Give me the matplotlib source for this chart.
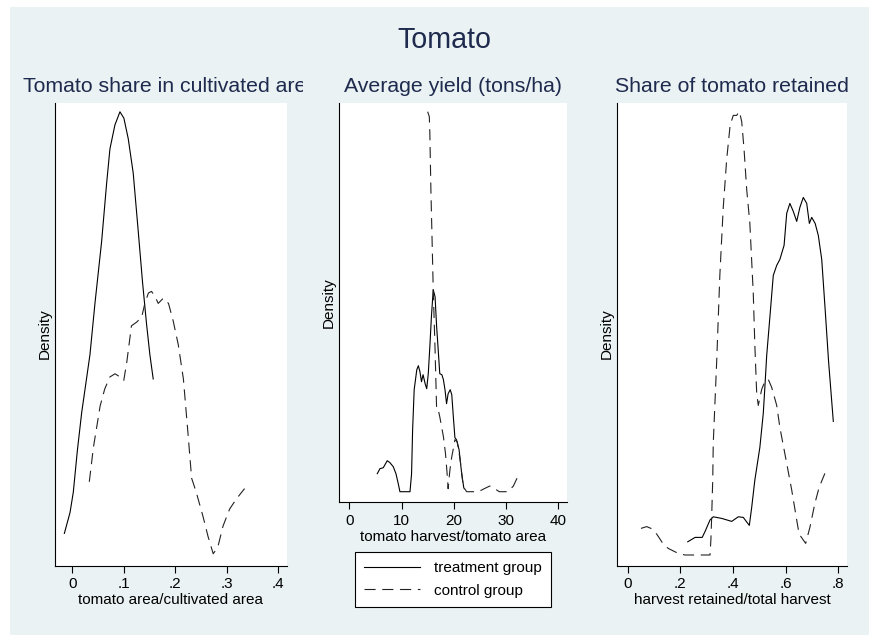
import matplotlib
matplotlib.use("Agg")
import matplotlib.pyplot as plt
from matplotlib.patches import Rectangle
from matplotlib.lines import Line2D
from matplotlib.transforms import Bbox, TransformedBbox

plt.rcParams["font.family"] = ["Liberation Sans", "DejaVu Sans"]

# ==============================
# DATA
# ==============================
# panel 1: tomato area / cultivated area
share_treat_x = [-0.0155, -0.0045, 0.0019, 0.0097, 0.0181, 0.0343, 0.0440, 0.0570, 0.0667, 0.0731,
                 0.0828, 0.0926, 0.1003, 0.1087, 0.1184, 0.1282, 0.1366, 0.1443, 0.1508, 0.1573]
share_treat_y = [0.75, 1.27, 1.78, 2.81, 3.76, 5.22, 6.50, 8.05, 9.50, 10.36,
                 10.96, 11.29, 11.13, 10.62, 9.76, 8.30, 7.02, 5.99, 5.22, 4.61]
share_ctrl_x = [0.033, 0.041, 0.054, 0.063, 0.073, 0.083, 0.093, 0.100, 0.106, 0.115, 0.125,
                0.135, 0.141, 0.148, 0.154, 0.161, 0.167, 0.177, 0.187, 0.196, 0.206, 0.216,
                0.225, 0.232, 0.241, 0.254, 0.264, 0.274, 0.283, 0.293, 0.306, 0.319, 0.335]
share_ctrl_y = [2.04, 2.90, 3.93, 4.36, 4.66, 4.74, 4.66, 4.57, 5.04, 5.94, 6.03,
                6.16, 6.50, 6.76, 6.80, 6.67, 6.50, 6.63, 6.50, 6.07, 5.47, 4.61,
                3.24, 2.13, 1.78, 1.18, 0.67, 0.24, 0.41, 0.93, 1.36, 1.61, 1.87]

# panel 2: tomato harvest / tomato area
yield_treat_x = [5.33, 5.84, 6.48, 7.24, 7.76, 8.39, 8.91, 9.35, 9.67, 11.6, 11.9, 12.1, 12.4,
                 12.9, 13.2, 13.5, 13.8, 14.1, 14.5, 14.8, 15.1, 15.4, 15.7, 16.05, 16.4, 16.7,
                 17.0, 17.3, 17.7, 18.0, 18.3, 18.6, 18.9, 19.3, 19.6, 19.9, 20.2, 20.5, 21.0,
                 21.5, 21.9, 22.0]
yield_treat_y = [0.018, 0.023, 0.024, 0.031, 0.029, 0.025, 0.018, 0.008, 0.0, 0.0, 0.018, 0.062, 0.102,
                 0.122, 0.126, 0.120, 0.110, 0.117, 0.108, 0.103, 0.118, 0.145, 0.175, 0.202, 0.195, 0.165,
                 0.142, 0.118, 0.117, 0.112, 0.102, 0.088, 0.098, 0.102, 0.097, 0.075, 0.054, 0.052, 0.042,
                 0.018, 0.004, 0.003]
yield_ctrl_x = [14.98, 15.3, 15.4, 15.6, 15.8, 16.05, 16.4, 16.7, 17.0, 17.3, 18.0, 18.4, 18.8, 18.9,
                19.25, 19.6, 19.9, 20.2, 20.65, 21.2, 21.8, 22.45, 24.7, 25.96, 26.9, 27.7, 28.7,
                30.4, 31.4, 32.3]
yield_ctrl_y = [0.380, 0.375, 0.358, 0.302, 0.258, 0.202, 0.142, 0.082, 0.082, 0.075, 0.055, 0.038,
                0.012, 0.003, 0.022, 0.035, 0.043, 0.052, 0.050, 0.032, 0.005, 0.0, 0.0, 0.0034,
                0.0057, 0.0034, 0.0, 0.0, 0.0057, 0.0157]

# panel 3: harvest retained / total harvest
kept_treat_x = [0.228, 0.256, 0.283, 0.294, 0.3126, 0.325, 0.357, 0.395, 0.420, 0.439, 0.462, 0.471,
                0.483, 0.502, 0.515, 0.521, 0.528, 0.540, 0.553, 0.566, 0.578, 0.594, 0.604, 0.616,
                0.629, 0.642, 0.654, 0.667, 0.680, 0.690, 0.699, 0.712, 0.724, 0.737, 0.750, 0.763,
                0.781]
kept_treat_y = [0.108, 0.13, 0.13, 0.16, 0.217, 0.233, 0.225, 0.21, 0.233, 0.23, 0.19, 0.28,
                0.417, 0.58, 0.75, 0.88, 1.04, 1.23, 1.44, 1.49, 1.52, 1.59, 1.75, 1.80,
                1.76, 1.71, 1.78, 1.83, 1.80, 1.70, 1.73, 1.70, 1.64, 1.52, 1.27, 1.01,
                0.71]
kept_ctrl_x = [0.0505, 0.072, 0.0885, 0.110, 0.135, 0.154, 0.192, 0.218, 0.3126, 0.316, 0.319, 0.323,
               0.325, 0.338, 0.350, 0.363, 0.376, 0.389, 0.401, 0.414, 0.424, 0.433, 0.442, 0.452,
               0.464, 0.477, 0.483, 0.490, 0.496, 0.509, 0.521, 0.534, 0.547, 0.566, 0.578, 0.604,
               0.623, 0.642, 0.651, 0.676, 0.692, 0.711, 0.727, 0.749]
kept_ctrl_y = [0.175, 0.184, 0.175, 0.147, 0.097, 0.075, 0.05, 0.042, 0.042, 0.117, 0.234, 0.417,
               0.60, 1.009, 1.44, 1.78, 2.02, 2.19, 2.24, 2.24, 2.26, 2.21, 2.07, 1.87,
               1.70, 1.35, 1.09, 0.85, 0.79, 0.87, 0.91, 0.92, 0.88, 0.79, 0.68, 0.50,
               0.367, 0.217, 0.147, 0.10, 0.18, 0.30, 0.38, 0.45]

share_ticks = [0, 0.1, 0.2, 0.3, 0.4]
share_labels = ["0", ".1", ".2", ".3", ".4"]
yield_ticks = [0, 10, 20, 30, 40]
yield_labels = ["0", "10", "20", "30", "40"]
kept_ticks = [0, 0.2, 0.4, 0.6, 0.8]
kept_labels = ["0", ".2", ".4", ".6", ".8"]

# ==============================
# FIGURE
# ==============================
W, H = 869, 635
BG = "#EAF2F3"
NAVY = "#1E2A4E"
fig = plt.figure(figsize=(W / 100, H / 100), dpi=100, facecolor="white")
fig.add_artist(Rectangle((10 / W, 0), 1 - 10 / W, 1 - 7 / H, transform=fig.transFigure,
                         facecolor=BG, edgecolor="none", zorder=-10))


def px_axes(x0, x1, y0, y1):
    return fig.add_axes([x0 / W, 1 - y1 / H, (x1 - x0) / W, (y1 - y0) / H])


DASH = (0, (10, 6))
LW = 0.8


def style(ax, ticks, labels, xlim, ylim, xlabel):
    ax.set_facecolor("white")
    for s in ["top", "right"]:
        ax.spines[s].set_visible(False)
    for s in ["left", "bottom"]:
        ax.spines[s].set_linewidth(0.8)
        ax.spines[s].set_color("black")
    ax.set_xlim(xlim)
    ax.set_ylim(ylim)
    ax.set_xticks(ticks)
    ax.set_xticklabels(labels)
    ax.set_yticks([])
    ax.tick_params(axis="x", length=5, width=0.8, pad=3.5, labelsize=11, colors="black")
    ax.set_xlabel(xlabel, fontsize=11, labelpad=1.5)
    ax.set_ylabel("Density", fontsize=11, labelpad=2)


# panel 1
ax1 = px_axes(55, 287, 102.6, 565.5)
ax1.plot(share_treat_x, share_treat_y, color="black", lw=LW)
ax1.plot(share_ctrl_x, share_ctrl_y, color="#222222", lw=LW, linestyle=DASH)
style(ax1, share_ticks, share_labels, (-0.0337, 0.4175), (-0.053, 11.52), "tomato area/cultivated area")

# panel 2
ax2 = px_axes(339, 567, 103, 502)
ax2.plot(yield_treat_x, yield_treat_y, color="black", lw=LW)
ax2.plot(yield_ctrl_x, yield_ctrl_y, color="#222222", lw=LW, linestyle=DASH)
style(ax2, yield_ticks, yield_labels, (-2.0, 41.67), (-0.0103, 0.3887), "tomato harvest/tomato area")

# panel 3
ax3 = px_axes(617, 847, 102.6, 565.5)
ax3.plot(kept_treat_x, kept_treat_y, color="black", lw=LW)
ax3.plot(kept_ctrl_x, kept_ctrl_y, color="#222222", lw=LW, linestyle=DASH)
style(ax3, kept_ticks, kept_labels, (-0.0406, 0.833), (-0.0105, 2.304), "harvest retained/total harvest")

# titles
fig.text(444 / W, 1 - 40 / H, "Tomato", fontsize=20.6, color=NAVY, ha="center", va="center")
t1 = fig.text(171 / W, 1 - 87 / H, "Tomato share in cultivated area", fontsize=15.3, color=NAVY,
              ha="center", va="center", clip_on=True)
t1.set_clip_box(TransformedBbox(Bbox.from_extents(0, 0, 303 / W, 1), fig.transFigure))
fig.text(453 / W, 1 - 87 / H, "Average yield (tons/ha)", fontsize=15.3, color=NAVY,
         ha="center", va="center")
fig.text(732 / W, 1 - 87 / H, "Share of tomato retained", fontsize=15.3, color=NAVY,
         ha="center", va="center")

# legend
handles = [Line2D([], [], color="black", lw=LW),
           Line2D([], [], color="#222222", lw=LW, linestyle=DASH)]
leg = fig.legend(handles, ["treatment group", "control group"], loc="upper left",
                 bbox_to_anchor=(355 / W, 1 - 552 / H), fontsize=11, frameon=True,
                 fancybox=False, edgecolor="black", framealpha=1, handlelength=3.66,
                 handletextpad=0.9, labelspacing=0.55, borderpad=0.6, borderaxespad=0)
leg.get_frame().set_linewidth(0.8)

fig.savefig("out.png", dpi=100, facecolor=fig.get_facecolor())
